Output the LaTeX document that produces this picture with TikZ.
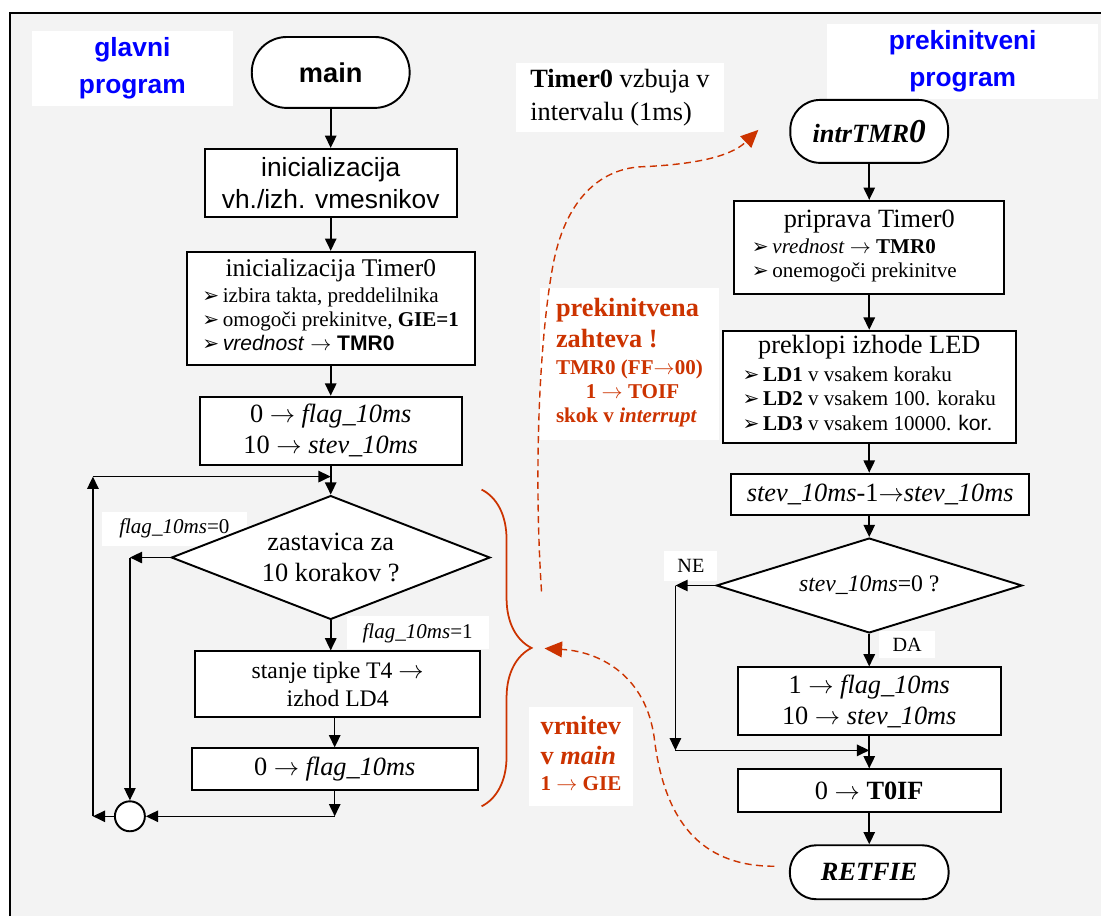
\documentclass[tikz,border=0pt]{standalone}
\usepackage{fontspec}
\setmainfont{Liberation Serif}
\setsansfont{Liberation Sans}
\newfontfamily\dejavu{DejaVu Sans}
\usepackage{tikz}
\usetikzlibrary{arrows.meta}
\usetikzlibrary{shapes.geometric}
\usetikzlibrary{decorations.pathreplacing}
\definecolor{bgray}{RGB}{243,243,243}
\definecolor{intred}{RGB}{204,51,0}
\definecolor{lblue}{RGB}{0,0,255}
\newcommand{\px}{0.02cm}
\newcommand{\fbig}{\fontsize{15}{17.5}\selectfont}
\newcommand{\fmid}{\fontsize{13.5}{16}\selectfont}
\newcommand{\fsml}{\fontsize{12}{13.6}\selectfont}
\newcommand{\itm}{{\dejavu\fontsize{11.5}{11.5}\selectfont ➢}\,}
\newcommand{\tto}{\ensuremath{\rightarrow}}

\begin{document}
\begin{tikzpicture}[x=0.02cm, y=-0.02cm,
  >={Triangle[length=7pt, width=6.5pt]},
  box/.style={draw, fill=white, line width=1.1pt, inner sep=0pt, align=center},
  term/.style={box, rounded corners=16pt},
  decide/.style={box, diamond},
  tag/.style={fill=white, inner sep=0pt, align=center},
  flow/.style={->, line width=0.9pt},
  irq/.style={intred, line width=0.8pt, dash pattern=on 4pt off 2.5pt, -{Triangle[length=10pt, width=9pt]}}]

  \fill[white] (0,0) rectangle (1102,917);
  \fill[bgray] (10,13) rectangle (1102,917);
  \draw[line width=1.1pt] (10,917) -- (10,13) -- (1102,13);
  \useasboundingbox (0,0) rectangle (1102,917);

  % glavni program
  \node[tag, minimum width=201*\px, minimum height=75*\px, text=lblue,
    font=\sffamily\bfseries\fontsize{15}{21}\selectfont] (lbmain) at (132.5,68.5) {glavni\\program};
  \node[term, minimum width=158*\px, minimum height=71*\px, rounded corners=20pt,
    font=\sffamily\bfseries\fontsize{15.5}{18}\selectfont] (main) at (331,72.5) {main};
  \node[box, minimum width=252*\px, minimum height=68*\px,
    font=\sffamily\fontsize{15}{18}\selectfont] (inio) at (331,183) {inicializacija\\vh./izh. vmesnikov};
  \node[box, minimum width=288*\px, minimum height=113*\px, font=\fsml] (initmr) at (331,308.5) {%
    \begin{tabular}{@{}l@{}}
      \multicolumn{1}{@{}c@{}}{\fontsize{14.5}{17}\selectfont inicializacija Timer0}\\[1pt]
      \itm izbira takta, preddelilnika\\
      \itm omogoči prekinitve, \textbf{GIE=1}\\
      \itm {\sffamily\textit{vrednost} \tto{} \textbf{TMR0}}
    \end{tabular}};
  \node[box, minimum width=262*\px, minimum height=68*\px, font=\fbig] (initvar) at (331,431)
    {0 \tto{} \textit{flag\_10ms}\\10 \tto{} \textit{stev\_10ms}};
  \node[tag, minimum width=145*\px, minimum height=34*\px, font=\fsml] (lbzero) at (174.5,529) {\textit{flag\_10ms}=0};
  \node[tag, minimum width=142*\px, minimum height=33*\px, font=\fsml] (lbone) at (418,633.5) {\textit{flag\_10ms}=1};
  \node[decide, aspect=2.57, minimum width=319*\px, minimum height=124*\px, font=\fbig] (askflag) at (331,558)
    {zastavica za\\10 korakov ?};
  \node[box, minimum width=285*\px, minimum height=66*\px, font=\fmid] (key) at (338,685) {stanje tipke T4 \tto\\izhod LD4};
  \node[box, minimum width=286*\px, minimum height=42*\px, font=\fbig] (clrflag) at (335,770) {0 \tto{} \textit{flag\_10ms}};
  \node[box, circle, minimum size=30*\px] (join) at (130,817) {};

  \coordinate (loopj) at (331,477);
  \coordinate (loopt) at (93,477);
  \coordinate (loopb) at (93,817);
  \coordinate (nojmp) at (130,558);
  \coordinate (clrend) at (335,817);

  \draw[flow] (main) -- (inio);
  \draw[flow] (inio) -- (initmr);
  \draw[flow] (initmr) -- (initvar);
  \draw[flow] (initvar) -- (askflag);
  \draw[flow] (askflag.west) -- (nojmp);
  \draw[flow] (nojmp) -- (join);
  \draw[flow] (askflag.south) -- (askflag.south |- key.north);
  \draw[flow] (clrflag.north |- key.south) -- (clrflag.north);
  \draw[flow] (clrflag.south) -- (clrend);
  \draw[flow] (clrend) -- (join);
  \draw[flow] (join) -- (loopb);
  \draw[flow] (loopb) -- (loopt);
  \draw[flow] (loopt) -- (loopj);

  \draw[intred, line width=1pt, decorate, decoration={brace, amplitude=1cm}] (482,490) -- (482,807);

  % prekinitveni program
  \node[tag, minimum width=271*\px, minimum height=75*\px, text=lblue,
    font=\sffamily\bfseries\fontsize{15}{21}\selectfont] (lbintr) at (963.5,61.5) {prekinitveni\\program};
  \node[tag, minimum width=209*\px, minimum height=69*\px, font=\fontsize{15}{18.5}\selectfont] (lbtmr) at (620.5,97.5)
    {\begin{tabular}{@{}l@{}}\textbf{Timer0} vzbuja v\\intervalu (1ms)\end{tabular}};
  \node[term, minimum width=158*\px, minimum height=63*\px, rounded corners=17pt,
    font=\bfseries\itshape\fbig] (intr) at (870,131.5) {intrTMR{\fontsize{19}{19}\selectfont 0}};
  \node[box, minimum width=270*\px, minimum height=93*\px, font=\fsml] (prep) at (870,247.5) {%
    \begin{tabular}{@{}l@{}}
      \multicolumn{1}{@{}c@{}}{\fbig priprava Timer0}\\[1pt]
      \itm \textit{vrednost} \tto{} \textbf{TMR0}\\
      \itm onemogoči prekinitve\hspace*{17pt}
    \end{tabular}};
  \node[box, minimum width=293*\px, minimum height=112*\px, font=\fsml] (led) at (870,387) {%
    \begin{tabular}{@{}l@{}}
      \multicolumn{1}{@{}c@{}}{\fbig preklopi izhode LED}\\[2pt]
      \itm \textbf{LD1} v vsakem koraku\\[0.5pt]
      \itm \textbf{LD2} v vsakem 100. koraku\\[0.5pt]
      \itm \textbf{LD3} v vsakem 10000. {\sffamily kor.}
    \end{tabular}};
  \node[box, minimum width=298*\px, minimum height=41*\px, font=\fbig] (dcnt) at (881,494.5)
    {\textit{stev\_10ms}-1\tto\textit{stev\_10ms}};
  \node[tag, minimum width=53*\px, minimum height=30*\px, font=\fontsize{11.5}{13}\selectfont] (lbne) at (691.5,566) {NE};
  \node[tag, minimum width=56*\px, minimum height=27*\px, font=\fontsize{11.5}{13}\selectfont] (lbda) at (908,645.5) {DA};
  \node[decide, aspect=3.22, minimum width=306*\px, minimum height=95*\px, font=\fmid] (askcnt) at (870,586)
    {\textit{stev\_10ms}=0 ?};
  \node[box, minimum width=263*\px, minimum height=68*\px, font=\fbig] (reset) at (870,702)
    {1 \tto{} \textit{flag\_10ms}\\10 \tto{} \textit{stev\_10ms}};
  \node[box, minimum width=263*\px, minimum height=43*\px, font=\fbig] (clrtoif) at (870,791.5) {0 \tto{} \textbf{T0IF}};
  \node[term, minimum width=159*\px, minimum height=54*\px, rounded corners=15pt,
    font=\bfseries\itshape\fbig] (retfie) at (870,873) {RETFIE};

  \coordinate (nebr) at (676,586);
  \coordinate (nebot) at (676,751);
  \coordinate (nejoin) at (870,751);

  \draw[flow] (intr) -- (prep);
  \draw[flow] (prep) -- (led);
  \draw[flow] (led.south) -- (led.south |- dcnt.north);
  \draw[flow] (askcnt.north |- dcnt.south) -- (askcnt.north);
  \draw[flow] (askcnt.west) -- (nebr);
  \draw[flow] (nebr) -- (nebot);
  \draw[flow] (nebot) -- (nejoin);
  \draw[flow] (askcnt) -- (reset);
  \draw[flow] (reset) -- (clrtoif);
  \draw[flow] (clrtoif) -- (retfie);

  % prekinitev in vrnitev
  \node[tag, minimum width=180*\px, minimum height=152*\px, text=intred, font=\bfseries\fsml] (req) at (630,364) {%
    \begin{tabular}{@{}l@{}}
      {\fbig prekinitvena}\\[3pt]
      {\fbig zahteva !}\\[2pt]
      TMR0 (FF\tto00)\\
      \hspace*{17pt}1 \tto{} TOIF\\
      skok v \textit{interrupt}
    \end{tabular}};
  \node[tag, minimum width=105*\px, minimum height=99*\px, text=intred, font=\bfseries\fsml] (ret) at (581.5,757.5) {%
    \begin{tabular}{@{}l@{}}
      {\fbig vrnitev}\\[3pt]
      {\fbig v \textit{main}}\\[1pt]
      1 \tto{} GIE
    \end{tabular}};

  \coordinate (reqa) at (542,592);
  \coordinate (reqb) at (759,130);
  \coordinate (reta) at (775,867);
  \coordinate (retb) at (545,649);

  \draw[irq] (reqa) .. controls (534,470) and (540,340) .. (553,268)
    .. controls (565,200) and (600,170) .. (640,167)
    .. controls (690,165) and (730,158) .. (reqb);
  \draw[irq] (reta) .. controls (700,867) and (665,820) .. (655,740)
    .. controls (647,676) and (600,652) .. (retb);
\end{tikzpicture}
\end{document}
